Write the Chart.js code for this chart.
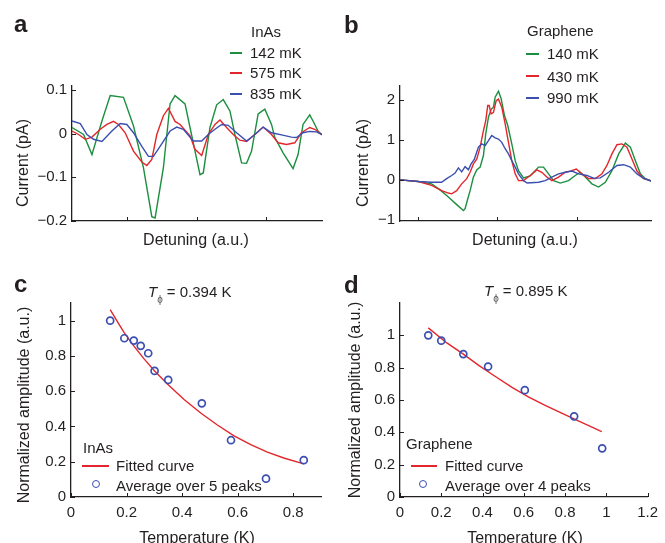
<!DOCTYPE html>
<html>
<head>
<meta charset="utf-8">
<script src="https://cdn.jsdelivr.net/npm/chart.js@4.4.1/dist/chart.umd.min.js"></script>
<style>
  body { margin: 0; background: #fff; }
  #fig { position: relative; width: 665px; height: 543px; overflow: hidden;
         font-family: "Liberation Sans", Arial, sans-serif; color: #231f20; font-size: 15px; }
  #fig canvas { position: absolute; }
  .t { position: absolute; line-height: 1; white-space: nowrap; }
  .letter { font-weight: bold; font-size: 24px; }
  .sw { position: absolute; height: 1.5px; }
  .ylab { font-size: 16px; transform: translate(-50%, -50%) rotate(-90deg); }
  .xlab { font-size: 16px; transform: translateX(-50%); }
  .ring { position: absolute; width: 6px; height: 6px; border: 1.8px solid #3a4fb0; border-radius: 50%; }
  .phi { font-size: 10px; position: relative; top: 6px; color: #555; margin-right: 4px; }
</style>
</head>
<body>
<div id="fig">
  <canvas id="chartA" width="332" height="262" style="left:0;top:0"></canvas>
  <canvas id="chartB" width="333" height="262" style="left:332px;top:0"></canvas>
  <canvas id="chartC" width="332" height="281" style="left:0;top:262px"></canvas>
  <canvas id="chartD" width="333" height="281" style="left:332px;top:262px"></canvas>

  <!-- panel letters -->
  <div class="t letter" style="left:14px;top:12px">a</div>
  <div class="t letter" style="left:344px;top:13px">b</div>
  <div class="t letter" style="left:14px;top:272px">c</div>
  <div class="t letter" style="left:344px;top:273px">d</div>

  <!-- legend a -->
  <div class="t" style="left:251px;top:24px">InAs</div>
  <div class="sw" style="left:230px;top:52px;width:12px;background:#1b8f3f"></div>
  <div class="t" style="left:250px;top:45px">142 mK</div>
  <div class="sw" style="left:230px;top:72px;width:12px;background:#e3262b"></div>
  <div class="t" style="left:250px;top:65px">575 mK</div>
  <div class="sw" style="left:230px;top:93px;width:12px;background:#3a4fb0"></div>
  <div class="t" style="left:250px;top:86px">835 mK</div>

  <!-- legend b -->
  <div class="t" style="left:527px;top:23px">Graphene</div>
  <div class="sw" style="left:526px;top:53px;width:13px;background:#1b8f3f"></div>
  <div class="t" style="left:547px;top:46px">140 mK</div>
  <div class="sw" style="left:526px;top:75px;width:13px;background:#e3262b"></div>
  <div class="t" style="left:547px;top:69px">430 mK</div>
  <div class="sw" style="left:526px;top:97px;width:13px;background:#3a4fb0"></div>
  <div class="t" style="left:547px;top:90px">990 mK</div>

  <!-- titles c, d -->
  <div class="t" style="left:148px;top:284px"><i>T</i><span class="phi">ϕ</span>= 0.394 K</div>
  <div class="t" style="left:484px;top:283px"><i>T</i><span class="phi">ϕ</span>= 0.895 K</div>

  <!-- legend c -->
  <div class="t" style="left:83px;top:440px">InAs</div>
  <div class="sw" style="left:82px;top:465px;width:27px;background:#e3262b"></div>
  <div class="t" style="left:116px;top:458px">Fitted curve</div>
  <div class="ring" style="left:92px;top:480px"></div>
  <div class="t" style="left:116px;top:478px">Average over 5 peaks</div>

  <!-- legend d -->
  <div class="t" style="left:406px;top:436px">Graphene</div>
  <div class="sw" style="left:411px;top:465px;width:26px;background:#e3262b"></div>
  <div class="t" style="left:445px;top:458px">Fitted curve</div>
  <div class="ring" style="left:419px;top:480px"></div>
  <div class="t" style="left:445px;top:478px">Average over 4 peaks</div>

  <!-- axis titles -->
  <div class="t xlab" style="left:196px;top:232px">Detuning (a.u.)</div>
  <div class="t xlab" style="left:525px;top:232px">Detuning (a.u.)</div>
  <div class="t xlab" style="left:197px;top:530px">Temperature (K)</div>
  <div class="t xlab" style="left:525px;top:530px">Temperature (K)</div>
  <div class="t ylab" style="left:23px;top:163px">Current (pA)</div>
  <div class="t ylab" style="left:363px;top:163px">Current (pA)</div>
  <div class="t ylab" style="left:24px;top:405px">Normalized amplitude (a.u.)</div>
  <div class="t ylab" style="left:355px;top:400px">Normalized amplitude (a.u.)</div>
</div>

<script>
// ---- panel a: InAs traces (detuning a.u., current pA)
const inasTicksX = [55, 125, 194];
const inasTicksY = [-0.2, -0.1, 0, 0.1];
const inas142X = [0, 11.6, 20, 30, 38.3, 51.6, 61.6, 71.6, 80, 83.3, 91.6, 98.3, 103.3, 113.3, 118.3, 128.3, 131.6, 138.3, 145, 151.6, 158.3, 163.3, 170, 175, 180, 186.6, 193.3, 200, 203.3, 211.6, 221.6, 226.6, 231.6, 238.3, 241.6, 246.6, 250.6];
const inas142Y = [0.014, -0.002, -0.048, 0.029, 0.087, 0.083, 0.018, -0.078, -0.19, -0.193, -0.078, 0.068, 0.087, 0.068, 0.014, -0.094, -0.09, 0.014, 0.066, 0.078, 0.052, -0.002, -0.067, -0.068, -0.04, 0.045, 0.056, 0.021, -0.009, -0.044, -0.08, -0.048, 0.021, 0.043, 0.029, 0.006, -0.003];
const inas575X = [0, 6.6, 13.3, 20, 28.3, 35, 41.6, 46.6, 53.3, 61.6, 70, 75, 80, 85, 91.6, 96.6, 103.3, 108.3, 118.3, 123.3, 130, 136.6, 143.3, 148.3, 155, 161.6, 168.3, 175, 183.3, 191.6, 200, 206.6, 215, 223.3, 230, 238.3, 243.3, 250.6];
const inas575Y = [0.006, -0.002, -0.013, -0.008, 0.01, 0.021, 0.028, 0.021, 0.002, -0.04, -0.065, -0.073, -0.059, -0.002, 0.041, 0.058, 0.028, 0.021, -0.005, -0.036, -0.05, -0.002, 0.021, 0.031, 0.014, -0.002, -0.015, -0.018, -0.002, 0.015, -0.002, -0.021, -0.025, -0.021, 0.002, 0.014, 0.010, -0.002];
const inas835X = [0, 8.3, 15, 21.6, 30, 40, 48.3, 55, 61.6, 70, 76.6, 81.6, 88.3, 98.3, 105, 111.6, 121.6, 130, 136.6, 143.3, 150, 156.6, 165, 175, 183.3, 191.6, 200, 210, 220, 225, 231.6, 238.3, 245, 250.6];
const inas835Y = [0.029, 0.023, -0.002, -0.013, -0.018, 0.006, 0.023, 0.021, 0.002, -0.029, -0.052, -0.052, -0.029, 0.006, 0.015, 0.010, -0.017, -0.017, -0.002, 0.010, 0.021, 0.019, 0.002, -0.017, -0.002, 0.015, 0.002, -0.003, -0.008, -0.009, 0.002, 0.005, 0.004, -0.002];

// ---- panel b: graphene traces
const grTicksX = [18, 97, 177];
const grTicksY = [-1, 0, 1, 2];
const gr140X = [0, 18.3, 31.6, 40, 48.3, 56.6, 63.3, 65, 67.6, 70, 73.3, 76.6, 80, 83.3, 85.6, 88.3, 91, 93.3, 95, 98.3, 101, 104.3, 107.6, 111.6, 115, 118.3, 123.3, 130, 138.3, 143.3, 148.3, 153.3, 160, 168.3, 175, 180, 185, 191.6, 198.3, 205, 211.6, 218.3, 225, 230, 235, 240, 245, 250.6];
const gr140Y = [0, -0.04, -0.1, -0.25, -0.43, -0.62, -0.77, -0.72, -0.48, -0.27, 0.07, 0.25, 0.32, 0.61, 1.15, 1.57, 1.77, 1.82, 2.07, 2.22, 2.03, 1.61, 1.36, 0.9, 0.48, 0.23, 0.05, 0.1, 0.32, 0.32, 0.15, -0.02, -0.08, -0.02, 0.11, 0.19, 0.07, -0.1, -0.18, -0.06, 0.23, 0.65, 0.92, 0.82, 0.48, 0.15, 0.03, -0.03];
const gr430X = [0, 18.3, 31.6, 41.6, 48.3, 51.6, 56.6, 61.6, 66.6, 70, 73.3, 76.6, 80, 83.3, 85.6, 87.6, 89, 91, 93.3, 96, 98.3, 101.6, 105, 108.3, 111.6, 115, 118.3, 123.3, 130, 136.6, 141.6, 146.6, 151.6, 158.3, 165, 170, 176, 181.6, 188.3, 195, 201.6, 206.6, 211.6, 216.6, 221.6, 226.6, 231.6, 236.6, 243.3, 250.6];
const gr430Y = [0, -0.04, -0.14, -0.27, -0.33, -0.35, -0.27, -0.1, 0.03, 0.19, 0.4, 0.52, 0.82, 1.23, 1.48, 1.86, 1.86, 1.65, 1.69, 1.98, 2.02, 1.82, 1.4, 0.94, 0.48, 0.15, -0.02, -0.02, 0.11, 0.25, 0.19, 0.07, -0.02, 0.07, 0.19, 0.22, 0.27, 0.15, 0.03, 0.03, 0.15, 0.36, 0.65, 0.88, 0.9, 0.82, 0.52, 0.22, 0.03, -0.02];
const gr990X = [0, 18.3, 31.6, 41.6, 46.6, 51.6, 55, 58.3, 61.6, 65, 68.3, 71, 74.3, 78.3, 81.6, 85, 88.3, 91.6, 95, 98.3, 101.6, 105, 108.3, 111.6, 115, 118.3, 123.3, 127, 138.3, 145, 151.6, 158.3, 165, 171.6, 178.3, 186.6, 193.3, 200, 208.3, 216.6, 223.3, 230, 236.6, 243.3, 250.6];
const gr990Y = [0, -0.04, -0.06, -0.06, 0.03, 0.11, 0.17, 0.3, 0.2, 0.33, 0.25, 0.4, 0.52, 0.82, 0.9, 0.86, 0.98, 1.11, 1.05, 1.02, 0.94, 0.78, 0.65, 0.48, 0.32, 0.15, -0.02, -0.08, -0.06, -0.02, 0.07, 0.15, 0.19, 0.22, 0.15, 0.11, 0.04, 0.05, 0.19, 0.36, 0.38, 0.32, 0.15, 0.04, -0.03];

// ---- panel c: InAs amplitude vs temperature
const cTicksX = [0, 0.2, 0.4, 0.6, 0.8];
const cTicksY = [0, 0.2, 0.4, 0.6, 0.8, 1];
const cTemp = [0.141, 0.192, 0.226, 0.251, 0.278, 0.301, 0.350, 0.471, 0.576, 0.702, 0.838];
const cAmp = [1.0, 0.90, 0.887, 0.857, 0.815, 0.715, 0.664, 0.531, 0.322, 0.104, 0.209];
const cFitT = [0.141, 0.168, 0.192, 0.228, 0.263, 0.301, 0.347, 0.407, 0.467, 0.527, 0.587, 0.647, 0.707, 0.766, 0.838];
const cFitA = [1.062, 0.992, 0.93, 0.853, 0.783, 0.715, 0.641, 0.553, 0.476, 0.408, 0.347, 0.297, 0.254, 0.221, 0.188];

// ---- panel d: graphene amplitude vs temperature
const dTicksX = [0, 0.2, 0.4, 0.6, 0.8, 1, 1.2];
const dTicksY = [0, 0.2, 0.4, 0.6, 0.8, 1];
const dTemp = [0.137, 0.2, 0.307, 0.427, 0.605, 0.844, 0.98];
const dAmp = [1.0, 0.967, 0.884, 0.807, 0.661, 0.499, 0.301];
const dFitT = [0.137, 0.227, 0.307, 0.385, 0.464, 0.543, 0.622, 0.701, 0.781, 0.859, 0.978];
const dFitA = [1.046, 0.953, 0.884, 0.811, 0.744, 0.678, 0.620, 0.568, 0.520, 0.474, 0.405];

const GREEN = '#1b8f3f';
const RED = '#e3262b';
const BLUE = '#3a4fb0';
const INK = '#231f20';

const zip = (xs, ys) => xs.map((x, i) => ({ x: x, y: ys[i] }));

// small inward tick marks, matlab style
const inwardTicks = {
  id: 'inwardTicks',
  afterDraw(chart) {
    const { ctx, chartArea, scales } = chart;
    ctx.save();
    ctx.strokeStyle = INK;
    ctx.lineWidth = 1;
    scales.x.ticks.forEach((t) => {
      const px = Math.round(scales.x.getPixelForValue(t.value)) + 0.5;
      ctx.beginPath();
      ctx.moveTo(px, chartArea.bottom);
      ctx.lineTo(px, chartArea.bottom - 4);
      ctx.stroke();
    });
    scales.y.ticks.forEach((t) => {
      const py = Math.round(scales.y.getPixelForValue(t.value)) + 0.5;
      ctx.beginPath();
      ctx.moveTo(chartArea.left, py);
      ctx.lineTo(chartArea.left + 4, py);
      ctx.stroke();
    });
    ctx.restore();
  },
};

function lineSet(xs, ys, color, order) {
  return {
    data: zip(xs, ys),
    borderColor: color,
    borderWidth: 1.4,
    pointRadius: 0,
    tension: 0,
    order: order,
  };
}

function ringSet(xs, ys) {
  return {
    data: zip(xs, ys),
    showLine: false,
    borderColor: BLUE,
    backgroundColor: 'rgba(0,0,0,0)',
    pointRadius: 3.5,
    pointBorderWidth: 1.7,
    order: 0,
  };
}

function makeChart(id, box, area, datasets, xr, yr) {
  const tickFont = { family: 'Liberation Sans', size: 15 };
  const fmt = (v) => String(v).replace('-', '\u2212');
  return new Chart(document.getElementById(id), {
    type: 'line',
    data: { datasets: datasets },
    options: {
      responsive: false,
      animation: false,
      devicePixelRatio: 1,
      layout: { padding: { left: 0, top: area.top, right: box.w - area.right, bottom: 0 } },
      plugins: { legend: { display: false }, tooltip: { enabled: false } },
      scales: {
        x: {
          type: 'linear',
          min: xr.min,
          max: xr.max,
          grid: { display: false, drawTicks: false },
          border: { display: true, color: INK, width: 1.3 },
          ticks: { display: xr.labels, font: tickFont, color: INK, padding: 7, maxRotation: 0, callback: fmt },
          afterBuildTicks: (s) => { s.ticks = xr.ticks.map((v) => ({ value: v })); },
          afterFit: (s) => { s.height = box.h - area.bottom; },
        },
        y: {
          type: 'linear',
          min: yr.min,
          max: yr.max,
          grid: { display: false, drawTicks: false },
          border: { display: true, color: INK, width: 1.3 },
          ticks: { font: tickFont, color: INK, padding: 5, callback: fmt },
          afterBuildTicks: (s) => { s.ticks = yr.ticks.map((v) => ({ value: v })); },
          afterFit: (s) => { s.width = area.left; },
        },
      },
    },
    plugins: [inwardTicks],
  });
}

makeChart('chartA', { w: 332, h: 262 }, { left: 72, top: 86, right: 322, bottom: 221 },
  [lineSet(inas835X, inas835Y, BLUE, 1), lineSet(inas575X, inas575Y, RED, 2), lineSet(inas142X, inas142Y, GREEN, 3)],
  { min: 0, max: 250.6, ticks: inasTicksX, labels: false },
  { min: -0.2, max: 0.109, ticks: inasTicksY });

makeChart('chartB', { w: 333, h: 262 }, { left: 68, top: 86, right: 319, bottom: 221 },
  [lineSet(gr990X, gr990Y, BLUE, 1), lineSet(gr430X, gr430Y, RED, 2), lineSet(gr140X, gr140Y, GREEN, 3)],
  { min: 0, max: 250.6, ticks: grTicksX, labels: false },
  { min: -1.03, max: 2.35, ticks: grTicksY });

makeChart('chartC', { w: 332, h: 281 }, { left: 71, top: 41, right: 321, bottom: 235 },
  [ringSet(cTemp, cAmp), lineSet(cFitT, cFitA, RED, 1)],
  { min: 0, max: 0.9, ticks: cTicksX, labels: true },
  { min: 0, max: 1.1, ticks: cTicksY });

makeChart('chartD', { w: 333, h: 281 }, { left: 68, top: 41, right: 321, bottom: 235 },
  [ringSet(dTemp, dAmp), lineSet(dFitT, dFitA, RED, 1)],
  { min: 0, max: 1.2, ticks: dTicksX, labels: true },
  { min: 0, max: 1.2, ticks: dTicksY });
</script>
</body>
</html>
